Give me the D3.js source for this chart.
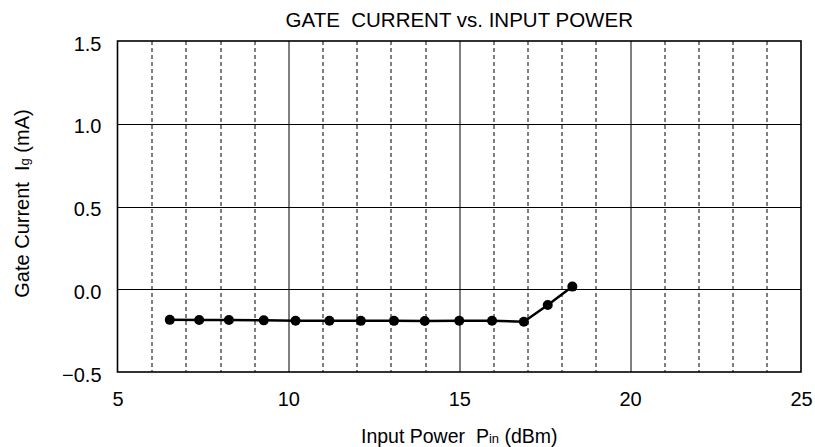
<!DOCTYPE html>
<html lang="en">
<head>
  <meta charset="UTF-8">
  <title>Gate Current vs. Input Power</title>
  <script src="https://d3js.org/d3.v7.min.js"></script>
  <style>
    body { margin: 0; background: #fff; }
    svg text { font-family: "Liberation Sans", Arial, sans-serif; fill: #000; }
  </style>
</head>
<body>
<div id="chart"></div>
<script>
  // data
  var pinDbm = [6.53, 7.39, 8.26, 9.28, 10.21, 11.20, 12.12, 13.09, 13.99, 15.0, 15.96, 16.89, 17.59, 18.31];
  var gateMa = [-0.185, -0.186, -0.186, -0.188, -0.190, -0.190, -0.191, -0.191, -0.192, -0.190, -0.190, -0.196, -0.095, 0.016];
  var xTicks = [5, 10, 15, 20, 25];
  var yTicks = [-0.5, 0.0, 0.5, 1.0, 1.5];
  var xMinor = [6, 7, 8, 9, 11, 12, 13, 14, 16, 17, 18, 19, 21, 22, 23, 24];

  var width = 815, height = 447;
  var margin = { top: 41, right: 14, bottom: 75, left: 117.5 };
  var w = width - margin.left - margin.right,
      h = height - margin.top - margin.bottom;
  var fs = 20;

  var svg = d3.select("#chart").append("svg")
    .attr("width", width)
    .attr("height", height);

  var g = svg.append("g")
    .attr("transform", "translate(" + margin.left + "," + margin.top + ")");

  var x = d3.scaleLinear().domain([5, 25]).range([0, w]);
  var y = d3.scaleLinear().domain([-0.5, 1.5]).range([h, 0]);

  // dashed minor verticals
  g.selectAll(".minor").data(xMinor).enter().append("line")
    .attr("x1", function(d) { return Math.round(x(d)) + 0.5; })
    .attr("x2", function(d) { return Math.round(x(d)) + 0.5; })
    .attr("y1", 0).attr("y2", h)
    .attr("stroke", "#000").attr("stroke-width", 1)
    .attr("stroke-dasharray", "4,3");

  // solid major verticals
  g.selectAll(".majx").data(xTicks.slice(1, -1)).enter().append("line")
    .attr("x1", function(d) { return Math.round(x(d)) + 0.5; })
    .attr("x2", function(d) { return Math.round(x(d)) + 0.5; })
    .attr("y1", 0).attr("y2", h)
    .attr("stroke", "#000").attr("stroke-width", 1);

  // solid horizontals
  g.selectAll(".majy").data(yTicks.slice(1, -1)).enter().append("line")
    .attr("x1", 0).attr("x2", w)
    .attr("y1", function(d) { return Math.round(y(d)) + 0.5; })
    .attr("y2", function(d) { return Math.round(y(d)) + 0.5; })
    .attr("stroke", "#000").attr("stroke-width", 1);

  // frame
  g.append("rect")
    .attr("x", 0).attr("y", 0).attr("width", w).attr("height", h)
    .attr("fill", "none").attr("stroke", "#000").attr("stroke-width", 1.6);

  // axes (labels only, no tick marks)
  var xAxis = g.append("g")
    .attr("transform", "translate(0," + h + ")")
    .call(d3.axisBottom(x).tickValues(xTicks).tickSize(0).tickPadding(20).tickFormat(d3.format("d")));
  var yAxis = g.append("g")
    .call(d3.axisLeft(y).tickValues(yTicks).tickSize(0).tickPadding(16)
      .tickFormat(function(d) { return d3.format(".1f")(d).replace("-", "\u2013"); }));
  [xAxis, yAxis].forEach(function(a) {
    a.select(".domain").remove();
    a.selectAll("text").attr("font-size", fs).attr("font-family", "Liberation Sans, Arial, sans-serif");
  });
  yAxis.selectAll("text").attr("dy", "0.45em");

  // data line + markers
  var pts = pinDbm.map(function(p, i) { return [p, gateMa[i]]; });
  g.append("path").datum(pts)
    .attr("fill", "none").attr("stroke", "#000").attr("stroke-width", 2.5)
    .attr("d", d3.line().x(function(d) { return x(d[0]); }).y(function(d) { return y(d[1]); }));
  g.selectAll(".pt").data(pts).enter().append("circle")
    .attr("cx", function(d) { return x(d[0]); })
    .attr("cy", function(d) { return y(d[1]); })
    .attr("r", 5).attr("fill", "#000");

  // title
  svg.append("text")
    .attr("x", margin.left + w / 2).attr("y", 27)
    .attr("text-anchor", "middle").attr("font-size", 20.5)
    .attr("xml:space", "preserve")
    .text("GATE  CURRENT vs. INPUT POWER");

  // x label
  var xl = svg.append("text")
    .attr("x", margin.left + w / 2).attr("y", 443)
    .attr("text-anchor", "middle").attr("font-size", 19.5)
    .attr("xml:space", "preserve");
  xl.append("tspan").text("Input Power  P");
  xl.append("tspan").attr("font-size", 13).text("in");
  xl.append("tspan").text(" (dBm)");

  // y label
  var yl = svg.append("text")
    .attr("transform", "translate(29," + (margin.top + h / 2 - 3) + ") rotate(-90)")
    .attr("text-anchor", "middle").attr("font-size", fs)
    .attr("xml:space", "preserve");
  yl.append("tspan").text("Gate Current  I");
  yl.append("tspan").attr("font-size", 13).text("g");
  yl.append("tspan").text(" (mA)");
</script>
</body>
</html>
